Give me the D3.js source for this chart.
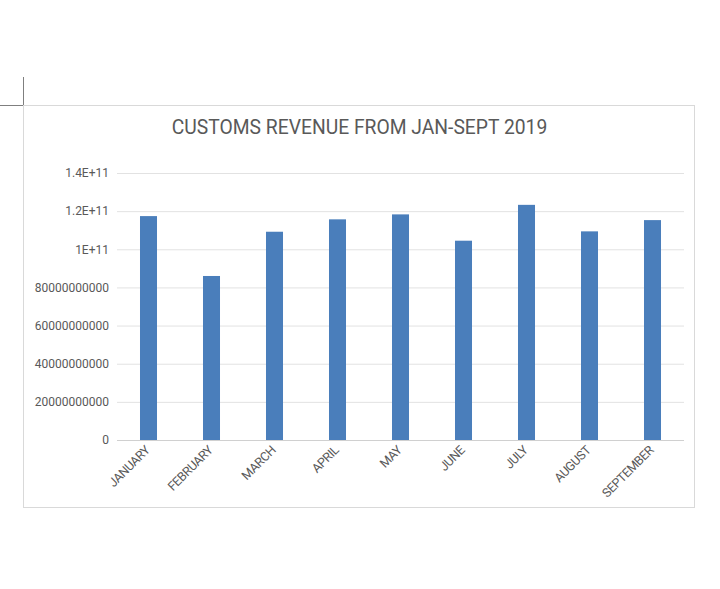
<!DOCTYPE html>
<html>
<head>
<meta charset="utf-8">
<script src="https://cdn.jsdelivr.net/npm/d3@7"></script>
<style>
  body { margin: 0; background: #fff; }
  text { font-family: Roboto, "Open Sans", sans-serif; }
</style>
</head>
<body>
<div id="container"></div>
<script>
// data
const months = ["JANUARY", "FEBRUARY", "MARCH", "APRIL", "MAY", "JUNE", "JULY", "AUGUST", "SEPTEMBER"];
const revenue = [117.4e9, 86.0e9, 109.2e9, 115.7e9, 118.3e9, 104.5e9, 123.3e9, 109.4e9, 115.3e9];
const yTicks = [0, 20e9, 40e9, 60e9, 80e9, 100e9, 120e9, 140e9];
const yTickLabels = ["0", "20000000000", "40000000000", "60000000000", "80000000000", "1E+11", "1.2E+11", "1.4E+11"];
const title = "CUSTOMS REVENUE FROM JAN-SEPT 2019";

const widthSVG = 720,
  heightSVG = 589;

// chart frame and plot area
const frame = { x: 23.5, y: 105.5, w: 671, h: 402 };
const plot = { left: 117, right: 684, top: 173, bottom: 440 };

const svg = d3.select("#container")
  .append("svg")
  .attr("width", widthSVG)
  .attr("height", heightSVG);

// crop mark in the top left corner
svg.append("path")
  .attr("d", `M0,${frame.y}H${frame.x}V77`)
  .attr("fill", "none")
  .attr("stroke", "#7f7f7f")
  .attr("stroke-width", 1);

// chart border
svg.append("rect")
  .attr("x", frame.x)
  .attr("y", frame.y)
  .attr("width", frame.w)
  .attr("height", frame.h)
  .attr("fill", "#fff")
  .attr("stroke", "#d9d9d9");

svg.append("text")
  .attr("x", 359.5)
  .attr("y", 134)
  .attr("text-anchor", "middle")
  .style("font-size", "19.3px")
  .style("fill", "#595959")
  .text(title);

const x = d3.scaleBand()
  .domain(months)
  .range([plot.left, plot.right])
  .paddingInner(0.73)
  .paddingOuter(0.365);

const y = d3.scaleLinear()
  .domain([0, 140e9])
  .range([plot.bottom, plot.top]);

// gridlines and y labels
const yAxis = d3.axisLeft(y)
  .tickValues(yTicks)
  .tickSize(-(plot.right - plot.left))
  .tickPadding(8)
  .tickFormat((d, i) => yTickLabels[i]);

const gy = svg.append("g")
  .attr("transform", `translate(${plot.left},0)`)
  .call(yAxis);
gy.select(".domain").remove();
gy.selectAll(".tick line")
  .attr("stroke", (d) => d === 0 ? "#d0d0d0" : "#e2e2e2")
  .attr("stroke-width", 1);
gy.selectAll(".tick text")
  .style("font-size", "12px")
  .style("fill", "#595959")
  .style("font-family", "Roboto, sans-serif");

// bars
svg.append("g")
  .selectAll("rect")
  .data(revenue)
  .enter()
  .append("rect")
  .attr("x", (d, i) => x(months[i]))
  .attr("y", (d) => y(d))
  .attr("width", x.bandwidth())
  .attr("height", (d) => y(0) - y(d))
  .attr("fill", "#4a7ebb");

// x labels rotated
const xAxis = d3.axisBottom(x).tickSize(0).tickPadding(0);
const gx = svg.append("g")
  .attr("transform", `translate(0,${plot.bottom})`)
  .call(xAxis);
gx.select(".domain").remove();
gx.selectAll(".tick text")
  .attr("text-anchor", "end")
  .attr("dy", 0)
  .attr("transform", "translate(2,11) rotate(-45)")
  .style("font-size", "12.5px")
  .style("letter-spacing", "-0.4px")
  .style("fill", "#595959")
  .style("font-family", "Roboto, sans-serif");
</script>
</body>
</html>
